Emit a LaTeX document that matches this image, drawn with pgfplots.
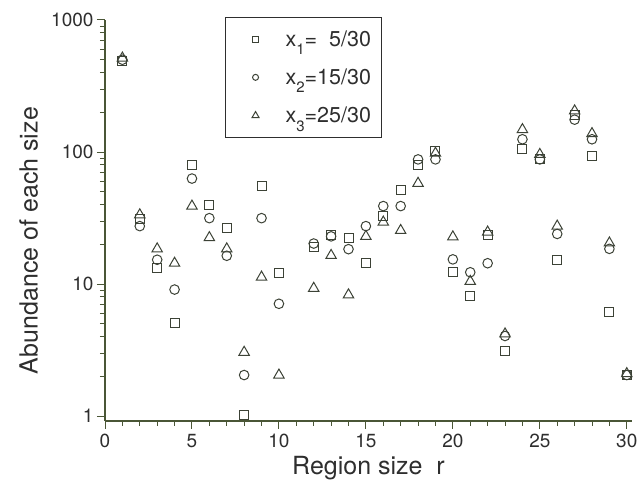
\documentclass[border=0pt]{standalone}
\usepackage{pgfplots}
\pgfplotsset{compat=1.18}
\usepackage{fontspec}
\setmainfont{TeX Gyre Heros}
\definecolor{ax}{HTML}{4A5636}
\definecolor{mk}{HTML}{3C4236}
\definecolor{tx}{HTML}{2E2E2E}
\begin{document}
\begin{tikzpicture}
\useasboundingbox (0pt,0pt) rectangle (642pt,489pt);
\begin{axis}[
  at={(105pt,68pt)}, anchor=south west,
  scale only axis, width=527pt, height=401pt,
  ymode=log, xmin=0, xmax=30.3, ymin=0.92, ymax=1000,
  axis x line=bottom, axis y line=left,
  axis line style={-, ax, line width=1.1pt},
  tick style={ax, line width=1pt},
  tick align=outside,
  major tick length=8pt, minor tick length=5pt,
  xtick={0,5,...,30}, minor x tick num=4,
  ytick={1,10,100,1000}, yticklabels={1,10,100,1000},
  /pgf/number format/assume math mode=true,
  ticklabel style={font=\fontsize{19}{22}\selectfont, text=tx},
  xticklabel style={yshift=-2pt},
  xlabel={Region size\ \ r},
  ylabel={Abundance of each size},
  every axis x label/.style={at={(axis description cs:0.5,-0.117)}, anchor=center,
    font=\fontsize{25}{28}\selectfont, text=tx},
  every axis y label/.style={at={(axis description cs:-0.145,0.45)}, rotate=90, anchor=center,
    font=\fontsize{25}{28}\selectfont, text=tx},
  legend style={at={(rel axis cs:0.228,1.007)}, anchor=north west,
    draw=tx, line width=0.8pt, font=\fontsize{21.5}{24}\selectfont, text=tx,
    inner xsep=8pt, inner ysep=11pt, row sep=17pt,
    legend cell align=left},
  legend image code/.code={\path[draw=none,fill=none] (0pt,0pt) -- (50pt,0pt); \draw[#1] plot coordinates {(22pt,0pt)};},
  every axis plot/.append style={only marks, mk, line width=1pt},
]
\addplot[mark=square, mark size=4.5pt, legend image post style={mark size=3pt}] coordinates {
(1,490)(2,31)(3,13.3)(4,5.1)(5,80)(6,40)(7,26.5)(8,1.03)(9,55)(10,12.2)
(12,19.2)(13,23.4)(14,22.5)(15,14.5)(16,33)(17,52)(18,80)(19,102)(20,12.3)
(21,8.2)(22,23.5)(23,3.1)(24,106)(25,88)(26,15.3)(27,190)(28,93)(29,6.2)(30,2.05)};
\addlegendentry{x\raisebox{-0.75ex}{\fontsize{15}{17}\selectfont 1}=\ \ 5/30}
\addplot[mark=o, mark size=4.8pt, legend image post style={mark size=3pt}] coordinates {
(1,500)(2,27.5)(3,15.3)(4,9.1)(5,63)(6,31.6)(7,16.4)(8,2.05)(9,31.6)(10,7.1)
(12,20.3)(13,23)(14,18.4)(15,27.5)(16,39)(17,39)(18,88)(19,88)(20,15.4)
(21,12.3)(22,14.4)(23,4.05)(24,125)(25,88)(26,24)(27,176)(28,125)(29,18.5)(30,2.05)};
\addlegendentry{x\raisebox{-0.75ex}{\fontsize{15}{17}\selectfont 2}=15/30}
\addplot[mark=triangle, mark size=6pt, legend image post style={mark size=4pt}] coordinates {
(1,515)(2,33.5)(3,18.5)(4,14.4)(5,39)(6,22.5)(7,18.5)(8,3.05)(9,11.3)(10,2.05)
(12,9.3)(13,16.5)(14,8.3)(15,23)(16,29.5)(17,25.5)(18,58)(19,98)(20,22.8)
(21,10.5)(22,24.8)(23,4.2)(24,148)(25,96)(26,27.5)(27,205)(28,138)(29,20.5)(30,2.1)};
\addlegendentry{x\raisebox{-0.75ex}{\fontsize{15}{17}\selectfont 3}=25/30}
\end{axis}
\end{tikzpicture}
\end{document}
